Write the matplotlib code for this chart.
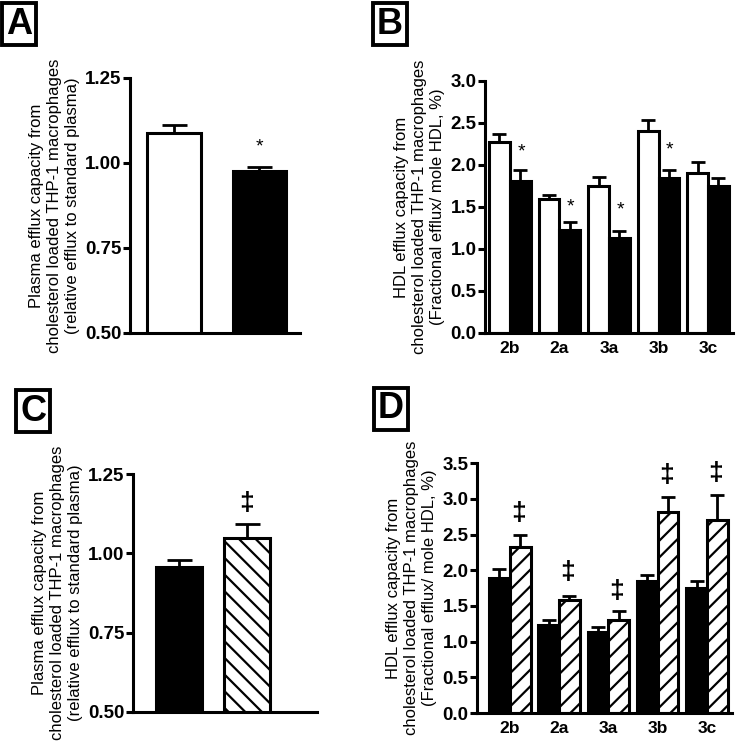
import numpy as np
from matplotlib import pyplot as plt

plt.rcParams['font.family'] = ['Liberation Sans', 'DejaVu Sans']
plt.rcParams['hatch.linewidth'] = 1.6

# panel A / C: plasma efflux
a_vals = [1.088, 0.976]
a_err = [0.024, 0.012]
c_vals = [0.957, 1.048]
c_err = [0.022, 0.044]

# panel B / D: HDL subclass efflux
subclasses = ['2b', '2a', '3a', '3b', '3c']
b_white = [2.27, 1.59, 1.75, 2.40, 1.90]
b_white_err = [0.10, 0.05, 0.11, 0.14, 0.14]
b_black = [1.81, 1.23, 1.13, 1.84, 1.75]
b_black_err = [0.13, 0.09, 0.09, 0.10, 0.10]
d_black = [1.89, 1.23, 1.13, 1.85, 1.75]
d_black_err = [0.13, 0.08, 0.08, 0.08, 0.10]
d_hatch = [2.32, 1.58, 1.30, 2.82, 2.70]
d_hatch_err = [0.17, 0.06, 0.13, 0.21, 0.35]
b_stars = [2.16, 1.50, 1.46, 2.18]
b_star_idx = [0, 1, 2, 3]
d_dagger = [2.80, 1.98, 1.71, 3.34, 3.36]
c_dagger = 1.16
a_star = 1.047

plasma_label = 'Plasma efflux capacity from\ncholesterol loaded THP-1 macrophages\n(relative efflux to standard plasma)'
hdl_label = 'HDL efflux capacity from\ncholesterol loaded THP-1 macrophages\n(Fractional efflux/ mole HDL, %)'

LW = 2.2
YL = dict(fontsize=12, labelpad=4, linespacing=1.25)

fig = plt.figure(figsize=(7.38, 7.5), dpi=100)


def style(ax):
    for s in ['top', 'right']:
        ax.spines[s].set_visible(False)
    for s in ['left', 'bottom']:
        ax.spines[s].set_linewidth(LW)
    ax.tick_params(axis='y', width=LW, length=5, pad=1, labelsize=13.5)
    ax.tick_params(axis='x', length=0)
    for t in ax.get_yticklabels():
        t.set_fontweight('bold')


def errs(vals, err, ax, x, cap):
    ax.errorbar(x, vals, yerr=[np.zeros(len(err)), err], fmt='none', ecolor='black',
                elinewidth=2, capsize=cap, capthick=2, zorder=1)


def letter(x, y, s):
    fig.text(x, y, s, fontsize=26, fontweight='bold', ha='center', va='center',
             bbox=dict(boxstyle='square,pad=0.1', fc='white', ec='black', lw=2.8))


# ---- A
axA = fig.add_axes([0.176, 0.556, 0.230, 0.34])
xa = np.arange(2)
axA.bar(xa, a_vals, width=0.63, color=['white', 'black'], edgecolor='black', linewidth=LW, zorder=2)
errs(a_vals, a_err, axA, xa, 9)
axA.set_ylim(0.5, 1.25)
axA.set_xlim(-0.515, 1.47)
axA.set_yticks([0.5, 0.75, 1.0, 1.25])
axA.set_yticklabels(['0.50', '0.75', '1.00', '1.25'])
axA.set_xticks([])
axA.text(1, a_star, '*', ha='center', va='center', fontsize=14)
axA.set_ylabel(plasma_label, **YL)
style(axA)

# ---- B
axB = fig.add_axes([0.657, 0.556, 0.336, 0.336])
xb = np.arange(len(subclasses))
axB.bar(xb, b_white, width=-0.42, align='edge', color='white', edgecolor='black', linewidth=LW, zorder=2)
axB.bar(xb, b_black, width=0.42, align='edge', color='black', edgecolor='black', linewidth=LW, zorder=2)
errs(b_white, b_white_err, axB, xb - 0.21, 5)
errs(b_black, b_black_err, axB, xb + 0.21, 5)
axB.set_ylim(0, 3.0)
axB.set_xlim(-0.505, 4.5)
axB.set_yticks(np.arange(0, 3.01, 0.5))
axB.set_yticklabels(['%.1f' % v for v in np.arange(0, 3.01, 0.5)])
axB.set_xticks(xb)
axB.set_xticklabels(subclasses, fontsize=12.5, fontweight='bold')
axB.tick_params(axis='x', pad=6)
for i, y in zip(b_star_idx, b_stars):
    axB.text(i + 0.23, y, '*', ha='center', va='center', fontsize=14)
axB.set_ylabel(hdl_label, **YL)
style(axB)

# ---- C
axC = fig.add_axes([0.180, 0.0507, 0.249, 0.317])
xc = np.arange(2)
axC.bar(xc[0], c_vals[0], width=0.68, color='black', edgecolor='black', linewidth=LW, zorder=2)
axC.bar(xc[1], c_vals[1], width=0.68, color='white', edgecolor='black', linewidth=LW,
        hatch='\\\\', zorder=2)
errs(c_vals, c_err, axC, xc, 9)
axC.set_ylim(0.5, 1.25)
axC.set_xlim(-0.68, 2.03)
axC.set_yticks([0.5, 0.75, 1.0, 1.25])
axC.set_yticklabels(['0.50', '0.75', '1.00', '1.25'])
axC.set_xticks([])
axC.text(1, c_dagger, '‡', ha='center', va='center', fontsize=19, fontweight='bold')
axC.set_ylabel(plasma_label, **YL)
style(axC)

# ---- D
axD = fig.add_axes([0.646, 0.0493, 0.3455, 0.333])
axD.bar(xb, d_black, width=-0.42, align='edge', color='black', edgecolor='black', linewidth=LW, zorder=2)
axD.bar(xb, d_hatch, width=0.42, align='edge', color='white', edgecolor='black', linewidth=LW,
        hatch='//', zorder=2)
errs(d_black, d_black_err, axD, xb - 0.21, 5)
errs(d_hatch, d_hatch_err, axD, xb + 0.21, 5)
axD.set_ylim(0, 3.5)
axD.set_xlim(-0.67, 4.5)
axD.set_yticks(np.arange(0, 3.51, 0.5))
axD.set_yticklabels(['%.1f' % v for v in np.arange(0, 3.51, 0.5)])
axD.set_xticks(xb)
axD.set_xticklabels(subclasses, fontsize=12.5, fontweight='bold')
axD.tick_params(axis='x', pad=6)
for i, y in enumerate(d_dagger):
    axD.text(i + 0.17, y, '‡', ha='center', va='center', fontsize=19, fontweight='bold')
axD.set_ylabel(hdl_label, **YL)
style(axD)

letter(19 / 738, 1 - 24 / 750, 'A')
letter(390 / 738, 1 - 24 / 750, 'B')
letter(33 / 738, 1 - 411 / 750, 'C')
letter(391 / 738, 1 - 409 / 750, 'D')

fig.savefig('out.png', dpi=100)
